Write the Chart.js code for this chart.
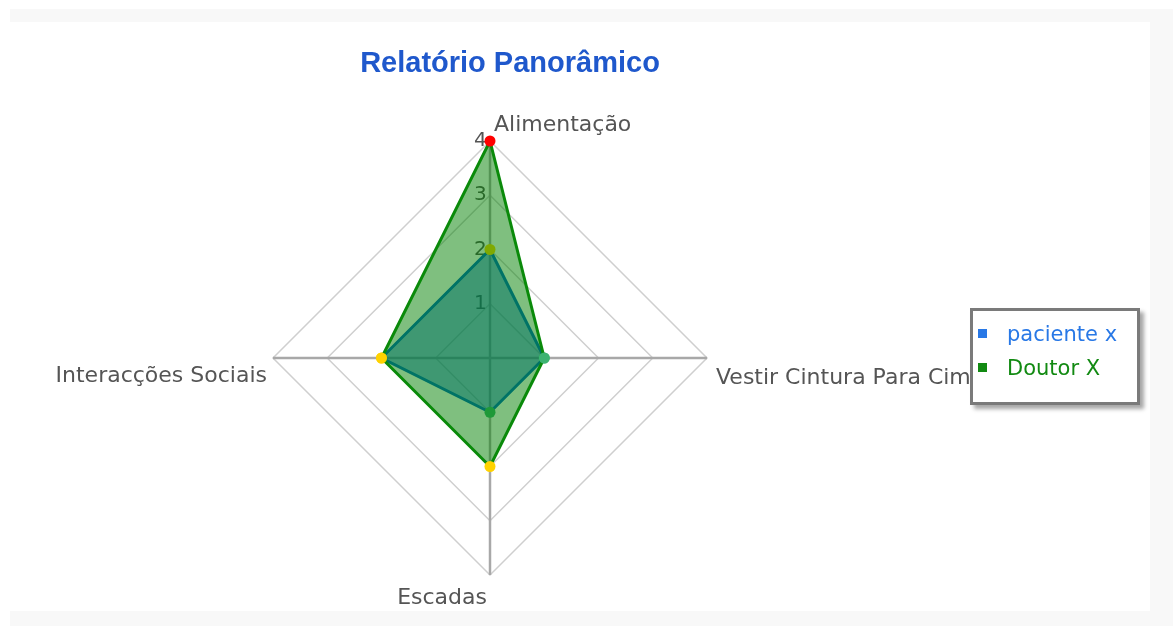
<!DOCTYPE html>
<html>
<head>
  <meta charset="UTF-8">
  <title>Relatório Panorâmico</title>
  <script src="https://cdn.jsdelivr.net/npm/chart.js"></script>
  <style>
    body {
      margin: 0;
      padding: 0;
      background-color: white;
      overflow: hidden;
    }
    .moldura {
      position: absolute;
      left: 10px;
      top: 9px;
      right: 0;
      bottom: 0;
      background-color: #f8f8f8;
    }
    .painel {
      position: absolute;
      left: 0;
      top: 22px;
      width: 1150px;
      height: 589px;
      background-color: white;
    }
    .grafico {
      position: absolute;
      left: 0;
      top: 0;
      width: 1173px;
      height: 626px;
    }
    .titulo {
      position: absolute;
      left: 0;
      top: 45px;
      width: 1020px;
      text-align: center;
      line-height: 34px;
      font-family: "Liberation Sans", Arial, sans-serif;
      font-size: 29px;
      font-weight: bold;
      color: #1f58cc;
    }
    #legenda {
      position: absolute;
      left: 970px;
      top: 308px;
      width: 164px;
      height: 91px;
      background: white;
      border: 3px solid #7a7a7a;
      box-shadow: 4px 4px 4px rgba(0, 0, 0, 0.35);
      font-family: "DejaVu Sans", Verdana, sans-serif;
      font-size: 21px;
    }
    #legenda div {
      position: absolute;
      left: 5px;
      white-space: nowrap;
    }
    #legenda span {
      display: inline-block;
      width: 9px;
      height: 9px;
      margin-right: 20px;
      vertical-align: 3px;
    }
  </style>
</head>
<body>
  <div class="moldura"></div>
  <div class="painel"></div>
  <div class="grafico"><canvas id="radar"></canvas></div>
  <div class="titulo">Relatório Panorâmico</div>
  <div id="legenda"></div>

  <script type="text/javascript">
    const categorias = ['Alimentação', 'Vestir Cintura Para Cima', 'Escadas', 'Interacções Sociais'];
    const paciente = [2, 1, 1, 2];
    const doutor = [4, 1, 2, 2];
    const escala = [0, 1, 2, 3, 4];

    // cor do ponto conforme a pontuação
    function corPonto(ctx) {
      const v = ctx.raw;
      if (v >= 4) return '#ff0000';
      if (v >= 2) return '#ffd200';
      return '#3cb371';
    }

    const series = [
      {
        label: 'paciente x',
        data: paciente,
        borderColor: '#0066cc',
        backgroundColor: 'rgba(0, 102, 204, 0.5)',
        legendColor: '#2878e6',
        order: 1
      },
      {
        label: 'Doutor X',
        data: doutor,
        borderColor: '#0a8a0a',
        backgroundColor: 'rgba(0, 128, 0, 0.5)',
        legendColor: '#128a12',
        order: 0
      }
    ];

    // posição de cada rótulo em relação ao vértice externo do eixo
    const ancoras = [
      { align: 'left', dx: 4, dy: -10 },
      { align: 'left', dx: 9, dy: 26 },
      { align: 'right', dx: -3, dy: 29 },
      { align: 'right', dx: -6, dy: 24 }
    ];

    const rotulos = {
      id: 'rotulos',
      afterDraw(chart) {
        const r = chart.scales.r;
        const c = chart.ctx;
        c.save();
        c.font = '22px "DejaVu Sans", Verdana, sans-serif';
        c.fillStyle = '#555';
        c.textBaseline = 'alphabetic';
        categorias.forEach((nome, i) => {
          const p = r.getPointPositionForValue(i, r.max);
          c.textAlign = ancoras[i].align;
          c.fillText(nome, p.x + ancoras[i].dx, p.y + ancoras[i].dy);
        });
        c.restore();
      }
    };

    const ctx = document.getElementById('radar').getContext('2d');
    new Chart(ctx, {
      type: 'radar',
      data: {
        labels: categorias,
        datasets: series.map(s => ({
          label: s.label,
          data: s.data,
          order: s.order,
          borderColor: s.borderColor,
          backgroundColor: s.backgroundColor,
          borderWidth: 3,
          fill: true,
          pointRadius: 5.5,
          pointHoverRadius: 5.5,
          pointBorderWidth: 0,
          pointBackgroundColor: corPonto
        }))
      },
      options: {
        responsive: true,
        maintainAspectRatio: false,
        animation: false,
        layout: {
          padding: { left: 0, right: 193, top: 129, bottom: 39 }
        },
        plugins: {
          legend: { display: false },
          tooltip: { enabled: false }
        },
        scales: {
          r: {
            min: escala[0],
            max: escala[escala.length - 1],
            ticks: {
              stepSize: 1,
              color: '#555',
              showLabelBackdrop: false,
              font: { family: '"DejaVu Sans", Verdana, sans-serif', size: 20 },
              callback: v => v + '   '
            },
            grid: { color: '#cfcfcf', lineWidth: 1.5 },
            angleLines: { color: '#a8a8a8', lineWidth: 2.5 },
            pointLabels: { display: false }
          }
        }
      },
      plugins: [rotulos]
    });

    // legenda em caixa sobreposta
    const legenda = document.getElementById('legenda');
    series.forEach((s, i) => {
      const item = document.createElement('div');
      item.style.top = (11 + i * 34) + 'px';
      item.style.color = s.legendColor;
      const marca = document.createElement('span');
      marca.style.backgroundColor = s.legendColor;
      item.appendChild(marca);
      item.appendChild(document.createTextNode(s.label));
      legenda.appendChild(item);
    });
  </script>
</body>
</html>
